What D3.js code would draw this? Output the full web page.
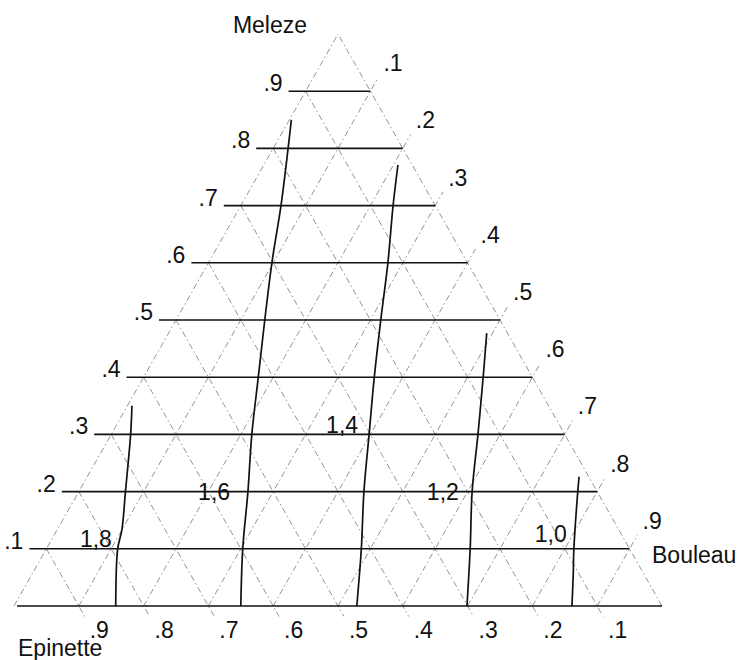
<!DOCTYPE html>
<html>
<head>
<meta charset="utf-8">
<script src="https://cdn.jsdelivr.net/npm/d3@7"></script>
<style>
  html, body { margin: 0; padding: 0; background: #fff; }
  svg { display: block; }
</style>
</head>
<body>
<div id="chart"></div>
<script>
// Composition levels (fraction 0..1) drawn on each side of the triangle
const gridLevels = [0.1, 0.2, 0.3, 0.4, 0.5, 0.6, 0.7, 0.8, 0.9];
const melezeLabels = [".1", ".2", ".3", ".4", ".5", ".6", ".7", ".8", ".9"];
const bouleauLabels = [".1", ".2", ".3", ".4", ".5", ".6", ".7", ".8", ".9"];
const epinetteLabels = [".1", ".2", ".3", ".4", ".5", ".6", ".7", ".8", ".9"];

// Iso-lines, each point given as [Meleze, Bouleau]; Epinette = 1 - Meleze - Bouleau
const contourValues = [1.8, 1.6, 1.4, 1.2, 1.0];
const contour18 = [[0.35, 0.007], [0.30, 0.030], [0.20, 0.072], [0.133, 0.100], [0.10, 0.110], [0, 0.157]];
const contour16 = [[0.85, 0.003], [0.80, 0.023], [0.70, 0.062], [0.60, 0.098], [0.50, 0.137],
                   [0.40, 0.177], [0.30, 0.217], [0.20, 0.261], [0.10, 0.303], [0, 0.350]];
const contour14 = [[0.771, 0.207], [0.70, 0.235], [0.60, 0.277], [0.50, 0.316], [0.40, 0.356],
                   [0.30, 0.398], [0.20, 0.440], [0.10, 0.486], [0, 0.529]];
const contour12 = [[0.477, 0.491], [0.40, 0.524], [0.30, 0.566], [0.20, 0.607], [0.10, 0.654], [0, 0.699]];
const contour10 = [[0.226, 0.759], [0.20, 0.770], [0.10, 0.814], [0.054, 0.836], [0, 0.861]];
const contours = [contour18, contour16, contour14, contour12, contour10];
// Where each iso-line value is written (text end), as [Meleze, Bouleau]
const contourLabelAt = [[0.103, 0.0996], [0.185, 0.241], [0.302, 0.380], [0.185, 0.594], [0.112, 0.797]];

// Corner names
const cornerNames = { top: "Meleze", left: "Epinette", right: "Bouleau" };

const W = 738, H = 660;
const svg = d3.select("#chart").append("svg")
  .attr("width", W).attr("height", H)
  .attr("viewBox", `0 0 ${W} ${H}`);
svg.append("rect").attr("width", W).attr("height", H).attr("fill", "#fff");

// Horizontal position along the base (Bouleau + Meleze/2), vertical = Meleze
const x = d3.scaleLinear().domain([0, 1]).range([14, 662]);
const y = d3.scaleLinear().domain([0, 1]).range([606, 34]);
const project = (m, b) => [x(b + m / 2), y(m)];

const FONT = "'Liberation Sans', Arial, Helvetica, sans-serif";
const fmtComma = d3.formatLocale({ decimal: ",", thousands: ".", grouping: [3], currency: ["", ""] }).format(".1f");

const gGrid = svg.append("g")
  .attr("fill", "none")
  .attr("stroke", "#939393")
  .attr("stroke-width", 1)
  .attr("stroke-dasharray", "6,3,1.5,3");

// extend a segment beyond its end point by len pixels
function extend(p0, p1, len) {
  const dx = p1[0] - p0[0], dy = p1[1] - p0[1];
  const L = Math.hypot(dx, dy);
  return [p1[0] + dx / L * len, p1[1] + dy / L * len];
}

// Left edge (Bouleau = 0) and right edge (Epinette = 0)
gGrid.append("line")
  .attr("x1", project(0, 0)[0]).attr("y1", project(0, 0)[1])
  .attr("x2", project(1, 0)[0]).attr("y2", project(1, 0)[1]);
gGrid.append("line")
  .attr("x1", project(0, 1)[0]).attr("y1", project(0, 1)[1])
  .attr("x2", project(1, 0)[0]).attr("y2", project(1, 0)[1]);

// Constant-Bouleau lines, running up to the right edge and a little past it
gridLevels.forEach(b => {
  const p0 = project(0, b), p1 = project(1 - b, b);
  const p2 = extend(p0, p1, 16);
  gGrid.append("line")
    .attr("x1", p0[0]).attr("y1", p0[1])
    .attr("x2", p2[0]).attr("y2", p2[1]);
});

// Constant-Epinette lines, from the left edge down to the base and slightly below
gridLevels.forEach(u => {
  const p0 = project(u, 0), p1 = project(0, u);
  const p2 = extend(p0, p1, 12);
  gGrid.append("line")
    .attr("x1", p0[0]).attr("y1", p0[1])
    .attr("x2", p2[0]).attr("y2", p2[1]);
});

// Solid Meleze levels, reaching past the left edge to their labels
const gLevels = svg.append("g").attr("stroke", "#111").attr("stroke-width", 1.6);
gridLevels.forEach(m => {
  const pl = project(m, 0), pr = project(m, 1 - m);
  gLevels.append("line")
    .attr("x1", pl[0] - 17).attr("y1", pl[1])
    .attr("x2", pr[0]).attr("y2", pr[1]);
});
// Base line
gLevels.append("line")
  .attr("x1", project(0, 0)[0] + 3).attr("y1", project(0, 0)[1])
  .attr("x2", project(0, 1)[0]).attr("y2", project(0, 1)[1]);

// Iso-lines
const line = d3.line()
  .x(d => project(d[0], d[1])[0])
  .y(d => project(d[0], d[1])[1])
  .curve(d3.curveCatmullRom.alpha(0.5));
svg.append("g")
  .selectAll("path")
  .data(contours)
  .join("path")
  .attr("d", line)
  .attr("fill", "none")
  .attr("stroke", "#111")
  .attr("stroke-width", 1.7);

// Text
const gText = svg.append("g")
  .attr("font-family", FONT)
  .attr("font-size", 23)
  .attr("fill", "#111");

// Meleze labels on the left
gridLevels.forEach((m, i) => {
  const p = project(m, 0);
  gText.append("text")
    .attr("x", p[0] - 23).attr("y", p[1] + 0)
    .attr("text-anchor", "end")
    .text(melezeLabels[i]);
});

// Bouleau labels along the right edge
gridLevels.forEach((b, i) => {
  const p = project(1 - b, b);
  gText.append("text")
    .attr("x", p[0] + 13).attr("y", p[1] - 20)
    .attr("text-anchor", "start")
    .text(bouleauLabels[i]);
});

// Epinette labels under the base
gridLevels.forEach((e, i) => {
  const p = project(0, 1 - e);
  gText.append("text")
    .attr("x", p[0] + 20.5).attr("y", 638)
    .attr("text-anchor", "middle")
    .text(epinetteLabels[i]);
});

// Iso-line values
contourValues.forEach((v, i) => {
  const p = project(contourLabelAt[i][0], contourLabelAt[i][1]);
  gText.append("text")
    .attr("x", p[0]).attr("y", p[1])
    .attr("text-anchor", "end")
    .text(fmtComma(v));
});

// Corner names
const apex = project(1, 0), left = project(0, 0), right = project(0, 1);
gText.append("text")
  .attr("x", apex[0] - 68).attr("y", apex[1] - 1)
  .attr("text-anchor", "middle")
  .text(cornerNames.top);
gText.append("text")
  .attr("x", left[0] + 4).attr("y", left[1] + 50)
  .attr("text-anchor", "start")
  .text(cornerNames.left);
gText.append("text")
  .attr("x", right[0] - 10).attr("y", right[1] - 43)
  .attr("text-anchor", "start")
  .text(cornerNames.right);
</script>
</body>
</html>
